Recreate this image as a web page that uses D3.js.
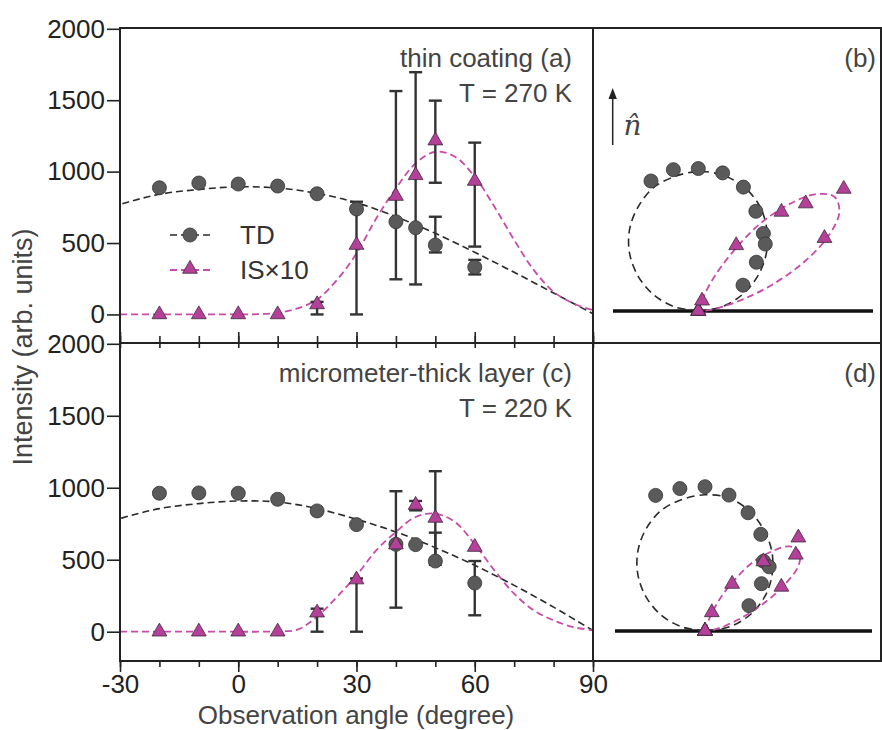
<!DOCTYPE html>
<html>
<head>
<meta charset="utf-8">
<script src="https://cdn.jsdelivr.net/npm/d3@7"></script>
<style>
  body { margin: 0; background: #fff; }
  text { font-family: "Liberation Sans", Arial, sans-serif; }
</style>
</head>
<body>
<svg id="chart" width="882" height="730"></svg>
<script>
// observation angles of the measured points (degree)
const angles = [-20, -10, 0, 10, 20, 30, 40, 45, 50, 60];
// thin coating, T = 270 K
const tdThin = [887, 920, 913, 899, 845, 738, 649, 607, 486, 331];
const isThin = [0, 0, 0, 0, 70, 486, 829, 974, 1217, 934];
// micrometer-thick layer, T = 220 K
const tdThick = [962, 964, 962, 920, 839, 744, 607, 605, 491, 338];
const isThick = [0, 0, 0, 0, 132, 362, 605, 880, 790, 588];

// error bars: [angle, low, high]
const errThin = [[20, 0, 88], [30, 0, 789], [40, 246, 1564], [45, 210, 1696],
  [50, 922, 1497], [50, 434, 684], [60, 475, 1203], [60, 280, 382]];
const errThick = [[20, 0, 160], [30, 0, 370], [40, 167, 976], [45, 843, 908],
  [50, 465, 1115], [50, 480, 688], [60, 114, 491]];

// fitted curves (dashed)
const tdFitAngles = [-90, -80, -70, -60, -50, -40, -30, -20, -10, 0, 10, 20, 30, 40, 50, 60, 70, 80, 90];
const tdFitThin = [0, 155, 305, 445, 575, 685, 771, 841, 875, 894, 885, 848, 782, 684, 568, 435, 295, 150, 5];
const tdFitThick = [0, 158, 311, 454, 584, 696, 786, 855, 890, 908, 901, 855, 781, 693, 584, 461, 322, 171, 8];

const isFitAngles = [-30, -25, -20, -15, -10, -5, 0, 5, 10, 15, 20, 25, 30, 35, 40, 45, 50, 55, 60, 65, 70, 75, 80, 85, 90];
const isFitThin = [0, 0, 0, 0, 0, 0, 0, 2, 12, 42, 105, 240, 427, 672, 883, 1058, 1139, 1104, 964, 754, 521, 310, 159, 77, 30];
const isFitThick = [0, 0, 0, 0, 0, 0, 0, 0, 3, 14, 105, 241, 391, 565, 693, 797, 820, 762, 607, 426, 264, 148, 79, 32, 9];

const yTicks = [0, 500, 1000, 1500, 2000];
const xTicks = [-30, 0, 30, 60, 90];

const panels = [
  { td: tdThin, is: isThin, err: errThin, tdFit: tdFitThin, isFit: isFitThin,
    top: 28.5, bottom: 343, title: "thin coating (a)", temp: "T = 270 K", polarLabel: "(b)",
    origin: [698.3, 311], rScale: 0.156, base: [613, 873] },
  { td: tdThick, is: isThick, err: errThick, tdFit: tdFitThick, isFit: isFitThick,
    top: 343.5, bottom: 660.5, title: "micrometer-thick layer (c)", temp: "T = 220 K", polarLabel: "(d)",
    origin: [705, 631], rScale: 0.15, base: [615, 872] }
];

const svg = d3.select("#chart");
const left = 120, mid = 593, right = 881;
const tdColor = "#5a5a5a", isColor = "#b5409a", isLine = "#c94aa9", ink = "#222";
const plain = d => String(d);

const x = d3.scaleLinear().domain([-30, 90]).range([left, mid]);
const rad = d => d * Math.PI / 180;

const circle = d3.symbol().type(d3.symbolCircle).size(155);
const tri = d3.symbol().type(d3.symbolTriangle).size(95);

svg.append("defs").append("clipPath").attr("id", "clipL")
  .append("rect").attr("x", left).attr("y", 0).attr("width", mid - left).attr("height", 730);

panels.forEach((p, pi) => {
  const y = d3.scaleLinear().domain([-200, 2000]).range([p.bottom, p.top + 0.3]);

  // y axis
  const ya = svg.append("g").attr("transform", `translate(${left},0)`)
    .call(d3.axisLeft(y).tickValues(yTicks).tickFormat(plain).tickSize(13).tickPadding(2));
  ya.select(".domain").remove();
  ya.selectAll("line").attr("stroke", ink).attr("stroke-width", 1.6);
  ya.selectAll("text").attr("font-size", 26).attr("fill", ink)
    .style("font-family", "'Liberation Sans', Arial, sans-serif");

  const g = svg.append("g");
  const gc = g.append("g").attr("clip-path", "url(#clipL)");

  // fit lines
  const line = d3.line().curve(d3.curveCatmullRom);
  gc.append("path")
    .attr("d", line(tdFitAngles.map((a, i) => [x(a), y(p.tdFit[i])])))
    .attr("fill", "none").attr("stroke", "#2a2a2a").attr("stroke-width", 1.6)
    .attr("stroke-dasharray", "7,4");
  gc.append("path")
    .attr("d", line(isFitAngles.map((a, i) => [x(a), y(p.isFit[i])])))
    .attr("fill", "none").attr("stroke", isLine).attr("stroke-width", 1.8)
    .attr("stroke-dasharray", "7,4");

  // error bars
  const eb = g.append("g").attr("stroke", "#333").attr("stroke-width", 2.4);
  p.err.forEach(([a, lo, hi]) => {
    eb.append("line").attr("x1", x(a)).attr("x2", x(a)).attr("y1", y(lo)).attr("y2", y(hi));
    [lo, hi].forEach(v => eb.append("line")
      .attr("x1", x(a) - 6.5).attr("x2", x(a) + 6.5).attr("y1", y(v)).attr("y2", y(v)));
  });

  // markers
  g.selectAll(".td").data(angles).join("path")
    .attr("transform", (a, i) => `translate(${x(a)},${y(p.td[i])})`)
    .attr("d", circle).attr("fill", tdColor).attr("stroke", "#333").attr("stroke-width", 0.8);
  g.selectAll(".is").data(angles).join("path")
    .attr("transform", (a, i) => `translate(${x(a)},${y(p.is[i])})`)
    .attr("d", tri).attr("fill", isColor).attr("stroke", "#3a2a3a").attr("stroke-width", 0.8);

  // panel captions
  g.append("text").attr("x", 572).attr("y", p.top + 38).attr("text-anchor", "end")
    .attr("font-size", 26).attr("fill", "#444").text(p.title);
  g.append("text").attr("x", 572).attr("y", p.top + 73).attr("text-anchor", "end")
    .attr("font-size", 26).attr("fill", "#444").text(p.temp);

  // polar panel
  const [ox, oy] = p.origin;
  const r = d3.scaleLinear().domain([0, 1000]).range([0, p.rScale * 1000]);
  const pg = svg.append("g").attr("transform", `translate(${ox},${oy})`);
  pg.append("line").attr("x1", p.base[0] - ox).attr("x2", p.base[1] - ox)
    .attr("y1", 0).attr("y2", 0).attr("stroke", "#111").attr("stroke-width", 3.5);
  const radial = d3.lineRadial().curve(d3.curveCatmullRom);
  pg.append("path")
    .attr("d", radial(tdFitAngles.map((a, i) => [rad(a), r(p.tdFit[i])])))
    .attr("fill", "none").attr("stroke", "#2a2a2a").attr("stroke-width", 1.6)
    .attr("stroke-dasharray", "8,5");
  pg.append("path")
    .attr("d", radial(isFitAngles.map((a, i) => [rad(a), r(p.isFit[i])])))
    .attr("fill", "none").attr("stroke", isLine).attr("stroke-width", 1.8)
    .attr("stroke-dasharray", "7,4");
  pg.selectAll(".ptd").data(angles).join("path")
    .attr("transform", (a, i) => `translate(${d3.pointRadial(rad(a), r(p.td[i]))})`)
    .attr("d", circle).attr("fill", tdColor).attr("stroke", "#333").attr("stroke-width", 0.8);
  pg.selectAll(".pis").data(angles).join("path")
    .attr("transform", (a, i) => `translate(${d3.pointRadial(rad(a), r(p.is[i]))})`)
    .attr("d", tri).attr("fill", isColor).attr("stroke", "#3a2a3a").attr("stroke-width", 0.8);

  svg.append("text").attr("x", 876).attr("y", p.top + 38).attr("text-anchor", "end")
    .attr("font-size", 26).attr("fill", "#444").text(p.polarLabel);
});

// surface normal arrow in (b)
svg.append("line").attr("x1", 612.7).attr("x2", 612.7).attr("y1", 145).attr("y2", 97)
  .attr("stroke", "#222").attr("stroke-width", 1.5);
svg.append("path").attr("d", "M612.7,88 L608.5,99 L616.9,99 Z").attr("fill", "#222");
svg.append("text").attr("x", 623.5).attr("y", 135).attr("font-size", 28)
  .style("font-family", "'DejaVu Serif', 'Liberation Serif', serif").attr("font-style", "italic")
  .attr("fill", "#444").text("n\u0302");

// x axes: shared middle line and bottom
const xMajor = d3.axisBottom(x).tickValues(xTicks).tickFormat(plain).tickSize(11).tickPadding(3);
const xMinor = d3.axisBottom(x).tickValues(d3.range(-30, 91, 10)).tickSize(6).tickFormat("");
const xb = svg.append("g").attr("transform", "translate(0,661)");
xb.append("g").call(xMinor);
xb.append("g").call(xMajor);
xb.selectAll(".domain").remove();
xb.selectAll("line").attr("stroke", ink).attr("stroke-width", 1.6);
xb.selectAll("text").attr("font-size", 26).attr("fill", ink)
  .style("font-family", "'Liberation Sans', Arial, sans-serif");

const xm = svg.append("g").attr("transform", "translate(0,343)");
xm.append("g").call(d3.axisTop(x).tickValues(d3.range(-30, 91, 10)).tickSize(7).tickFormat(""));
xm.append("g").call(d3.axisTop(x).tickValues(xTicks).tickSize(11).tickFormat(""));
xm.append("g").call(d3.axisBottom(x).tickValues(d3.range(-30, 91, 10)).tickSize(5).tickFormat(""));
xm.selectAll(".domain").remove();
xm.selectAll("line").attr("stroke", ink).attr("stroke-width", 1.6);

// frames
const fr = svg.append("g").attr("stroke", ink).attr("stroke-width", 2).attr("fill", "none");
fr.append("rect").attr("x", left).attr("y", 28).attr("width", right - left).attr("height", 633);
fr.append("line").attr("x1", left).attr("x2", right).attr("y1", 343).attr("y2", 343);
fr.append("line").attr("x1", mid).attr("x2", mid).attr("y1", 28).attr("y2", 661);

// legend
const leg = svg.append("g");
leg.append("line").attr("x1", 170).attr("x2", 210).attr("y1", 235).attr("y2", 235)
  .attr("stroke", "#2a2a2a").attr("stroke-width", 1.6).attr("stroke-dasharray", "7,4");
leg.append("path").attr("transform", "translate(190,235)").attr("d", circle)
  .attr("fill", tdColor).attr("stroke", "#333").attr("stroke-width", 0.8);
leg.append("text").attr("x", 240).attr("y", 244).attr("font-size", 26).attr("fill", "#333").text("TD");
leg.append("line").attr("x1", 170).attr("x2", 210).attr("y1", 270).attr("y2", 270)
  .attr("stroke", isLine).attr("stroke-width", 1.8).attr("stroke-dasharray", "7,4");
leg.append("path").attr("transform", "translate(190,269)").attr("d", tri)
  .attr("fill", isColor).attr("stroke", "#3a2a3a").attr("stroke-width", 0.8);
leg.append("text").attr("x", 240).attr("y", 279).attr("font-size", 26).attr("fill", "#333").text("IS×10");

// axis titles
svg.append("text").attr("x", 356).attr("y", 724).attr("text-anchor", "middle")
  .attr("font-size", 26).attr("fill", "#444").text("Observation angle (degree)");
svg.append("text").attr("transform", "translate(32,347) rotate(-90)").attr("text-anchor", "middle")
  .attr("font-size", 27).attr("fill", "#444").text("Intensity (arb. units)");
</script>
</body>
</html>
